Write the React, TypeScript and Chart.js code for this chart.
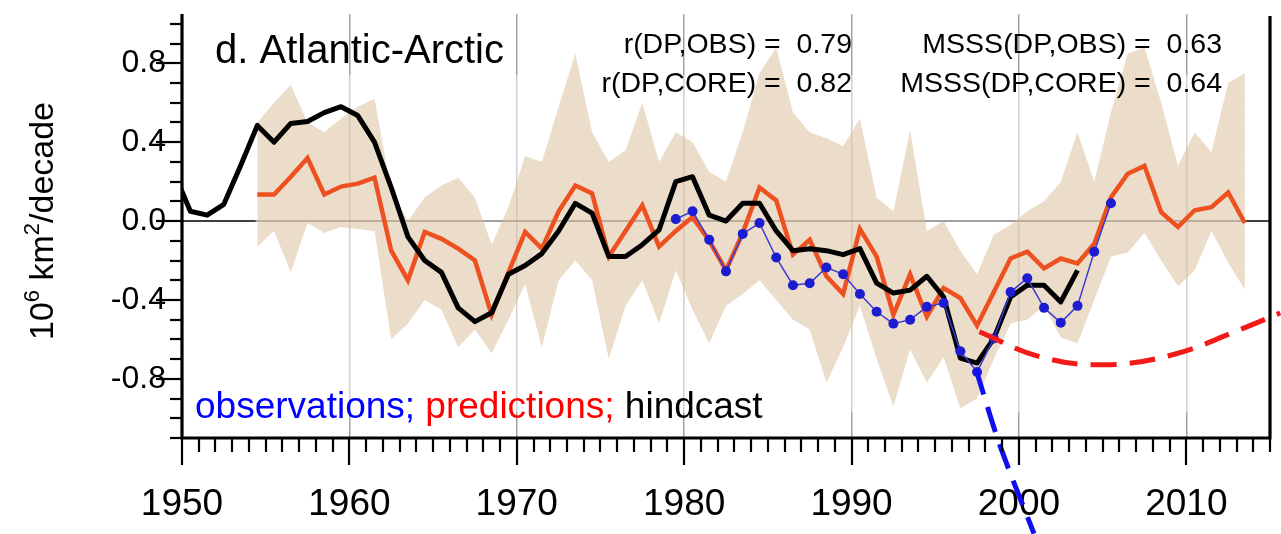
import React, { useEffect, useRef } from "react";
import { Chart, registerables } from "chart.js";

Chart.register(...registerables);

// Axis extents
const X_MIN = 1950;
const X_MAX = 2015;
const Y_MIN = -1.1;
const Y_MAX = 1.05;

// Hindcast (annual, mid-year), starting 1949.5
const hindcastStart = 1949.5;
const hindcast = [
  0.25, 0.05, 0.03, 0.085, 0.28, 0.485, 0.4, 0.495, 0.505, 0.55, 0.58,
  0.535, 0.4, 0.17, -0.08, -0.2, -0.26, -0.44, -0.51, -0.465, -0.27,
  -0.225, -0.165, -0.05, 0.09, 0.04, -0.18, -0.18, -0.12, -0.045, 0.2,
  0.225, 0.03, 0.0, 0.09, 0.09, -0.05, -0.15, -0.14, -0.15, -0.17,
  -0.14, -0.315, -0.365, -0.35, -0.28, -0.385, -0.695, -0.72, -0.595, -0.385,
  -0.325, -0.325, -0.41, -0.25,
];

// Ensemble-mean predictions, starting 1954.5
const predictionStart = 1954.5;
const predictions = [
  0.135, 0.135, 0.225, 0.32, 0.135, 0.175, 0.19, 0.22, -0.15, -0.3,
  -0.055, -0.09, -0.14, -0.2, -0.475, -0.26, -0.055, -0.14, 0.05, 0.18,
  0.14, -0.18, -0.05, 0.08, -0.13, -0.05, 0.02, -0.1, -0.25, -0.06,
  0.17, 0.105, -0.17, -0.095, -0.28, -0.37, -0.04, -0.18, -0.475, -0.27,
  -0.485, -0.34, -0.39, -0.53, -0.36, -0.19, -0.155, -0.24, -0.19, -0.215,
  -0.115, 0.12, 0.24, 0.28, 0.045, -0.03, 0.055, 0.07, 0.145, -0.01,
];

// Ensemble spread envelope, same years as predictions
const spreadUpper = [
  0.5, 0.6, 0.69, 0.5, 0.45, 0.52, 0.58, 0.62, 0.15, 0.0,
  0.12, 0.18, 0.22, 0.12, -0.12, 0.07, 0.33, 0.3, 0.58, 0.85,
  0.45, 0.3, 0.36, 0.6, 0.3, 0.45, 0.4, 0.25, 0.2, 0.45,
  0.75, 0.88, 0.55, 0.45, 0.42, 0.38, 0.52, 0.12, 0.05, 0.46,
  -0.05, 0.0, -0.15, -0.27, -0.07, -0.02, 0.05, 0.1, 0.2, 0.45,
  0.2, 0.55, 0.85, 0.88, 0.6, 0.28, 0.45, 0.35, 0.7, 0.75,
];
const spreadLower = [
  -0.13, -0.05, -0.26, -0.01, -0.06, -0.03, -0.04, -0.05, -0.6, -0.52,
  -0.4, -0.45, -0.64, -0.55, -0.67, -0.5, -0.32, -0.64, -0.3, -0.2,
  -0.3, -0.7, -0.43, -0.3, -0.52, -0.25, -0.45, -0.62, -0.43, -0.37,
  -0.3, -0.4, -0.5, -0.55, -0.82, -0.64, -0.43, -0.7, -0.94, -0.65,
  -0.82, -0.69, -0.95, -0.9, -0.7, -0.52, -0.5, -0.43, -0.59, -0.62,
  -0.4, -0.18, -0.16, -0.06, -0.2, -0.33, -0.25, -0.05, -0.21, -0.35,
];

// Observations, starting 1979.5
const observationStart = 1979.5;
const observations = [
  0.01, 0.05, -0.095, -0.255, -0.065, -0.01, -0.185, -0.325, -0.315, -0.235,
  -0.27, -0.37, -0.46, -0.52, -0.5, -0.435, -0.415, -0.66, -0.765, -0.595,
  -0.36, -0.29, -0.44, -0.515, -0.43, -0.155, 0.09,
];

// Dashed annotation curves
const redArcYears = [1997.64, 2001.22, 2005.0, 2009.18, 2013.16, 2015.61];
const redArcValues = [-0.561, -0.687, -0.729, -0.678, -0.552, -0.466];
const blueDropYears = [1997.44, 1998.85, 2000.9];
const blueDropValues = [-0.754, -1.134, -1.585];

// Ticks and labels
const xTickYears = Array.from({ length: X_MAX - X_MIN + 1 }, (_, i) => X_MIN + i);
const xLabelYears = [1950, 1960, 1970, 1980, 1990, 2000, 2010];
const yTickValues = [-1.1, -1.0, -0.9, -0.8, -0.7, -0.6, -0.5, -0.4, -0.3, -0.2, -0.1, 0.0, 0.1, 0.2, 0.3, 0.4, 0.5, 0.6, 0.7, 0.8, 0.9, 1.0];
const yLabelValues = [-0.8, -0.4, 0.0, 0.4, 0.8];

const panelTitle = "d. Atlantic-Arctic";
const statsLeft = ["r(DP,OBS) =  0.79", "r(DP,CORE) =  0.82"];
const statsRight = ["MSSS(DP,OBS) =  0.63", "MSSS(DP,CORE) =  0.64"];
const legendParts = [
  { text: "observations; ", color: "#0000ff" },
  { text: "predictions; ", color: "#ff0000" },
  { text: "hindcast", color: "#000000" },
];

const FONT = '"Liberation Sans", Arial, Helvetica, sans-serif';

const series = (start: number, values: number[]) =>
  values.map((v, i) => ({ x: start + i, y: v }));
const paired = (xs: number[], ys: number[]) => xs.map((x, i) => ({ x, y: ys[i] }));

const isLabel = (v: number, list: number[]) => list.some((l) => Math.abs(l - v) < 1e-6);

const framePlugin = {
  id: "frame",
  beforeDatasetsDraw(chart: any) {
    const { ctx, chartArea: a, scales } = chart;
    const x = scales.x;
    const y = scales.y;
    ctx.save();
    const y0 = y.getPixelForValue(0);
    ctx.strokeStyle = "#000";
    ctx.lineWidth = 1.6;
    ctx.beginPath();
    ctx.moveTo(a.left, y0);
    ctx.lineTo(a.right, y0);
    ctx.stroke();
    // light veil behind the ensemble panel
    const vx0 = x.getPixelForValue(1954.4);
    const vx1 = x.getPixelForValue(2013.55);
    const vy0 = y.getPixelForValue(0.74);
    const vy1 = y.getPixelForValue(-0.97);
    ctx.fillStyle = "rgba(255,255,255,0.5)";
    ctx.fillRect(vx0, vy0, vx1 - vx0, vy1 - vy0);
    ctx.restore();
  },
  afterDatasetsDraw(chart: any) {
    const { ctx, chartArea: a, scales } = chart;
    const x = scales.x;
    const y = scales.y;
    ctx.save();
    ctx.strokeStyle = "#000";
    ctx.lineCap = "butt";
    // ticks
    ctx.lineWidth = 2.2;
    xTickYears.forEach((yr) => {
      const px = Math.round(x.getPixelForValue(yr));
      const len = yr % 10 === 0 ? 27 : 14;
      ctx.beginPath();
      ctx.moveTo(px, a.bottom);
      ctx.lineTo(px, a.bottom + len);
      ctx.stroke();
    });
    yTickValues.forEach((v) => {
      const py = Math.round(y.getPixelForValue(v));
      const len = isLabel(v, yLabelValues) ? 26 : 12;
      ctx.beginPath();
      ctx.moveTo(a.left - len, py);
      ctx.lineTo(a.left, py);
      ctx.stroke();
    });
    // frame: left, bottom, right
    ctx.lineWidth = 3.2;
    ctx.beginPath();
    ctx.moveTo(a.left, a.top);
    ctx.lineTo(a.left, a.bottom + 1.5);
    ctx.moveTo(a.left - 1.5, a.bottom);
    ctx.lineTo(a.right + 1.5, a.bottom);
    ctx.moveTo(a.right, a.bottom);
    ctx.lineTo(a.right, a.top + 2);
    ctx.stroke();
    ctx.restore();
  },
  afterDraw(chart: any) {
    const { ctx } = chart;
    ctx.save();
    ctx.fillStyle = "#000";
    ctx.textBaseline = "alphabetic";

    ctx.font = `40px ${FONT}`;
    ctx.textAlign = "left";
    ctx.fillText(panelTitle, 215, 63);

    ctx.font = `28.5px ${FONT}`;
    ctx.textAlign = "right";
    ctx.fillText(statsLeft[0], 852, 53);
    ctx.fillText(statsLeft[1], 852, 92);
    ctx.fillText(statsRight[0], 1222, 53);
    ctx.fillText(statsRight[1], 1222, 92);

    ctx.font = `37px ${FONT}`;
    ctx.textAlign = "left";
    let lx = 195;
    legendParts.forEach((p) => {
      ctx.fillStyle = p.color;
      ctx.fillText(p.text, lx, 418);
      lx += ctx.measureText(p.text).width;
    });

    // y-axis title with superscripts
    const main = `34px ${FONT}`;
    const sup = `22px ${FONT}`;
    const parts = [
      { t: "10", f: main, dy: 0 },
      { t: "6", f: sup, dy: -14 },
      { t: " km", f: main, dy: 0 },
      { t: "2", f: sup, dy: -14 },
      { t: "/decade", f: main, dy: 0 },
    ];
    let total = 0;
    parts.forEach((p) => {
      ctx.font = p.f;
      total += ctx.measureText(p.t).width;
    });
    ctx.fillStyle = "#000";
    ctx.translate(53, 221);
    ctx.rotate(-Math.PI / 2);
    let tx = -total / 2;
    parts.forEach((p) => {
      ctx.font = p.f;
      ctx.fillText(p.t, tx, p.dy);
      tx += ctx.measureText(p.t).width;
    });
    ctx.restore();
  },
};

export default function App() {
  const canvasRef = useRef<HTMLCanvasElement | null>(null);

  useEffect(() => {
    if (!canvasRef.current) return;
    const chart = new Chart(canvasRef.current, {
      type: "line",
      data: {
        datasets: [
          {
            data: paired(redArcYears, redArcValues),
            borderColor: "#f41a1a",
            borderWidth: 5,
            borderDash: [26, 13],
            tension: 0.4,
            pointRadius: 0,
            fill: false,
            clip: false as any,
            order: 0,
          },
          {
            data: paired(blueDropYears, blueDropValues),
            borderColor: "#1010ee",
            borderWidth: 5,
            borderDash: [26, 13],
            tension: 0.3,
            pointRadius: 0,
            fill: false,
            clip: false as any,
            order: 0,
          },
          {
            data: series(observationStart, observations),
            borderColor: "#3a3ad0",
            borderWidth: 1.5,
            pointRadius: 5,
            pointBackgroundColor: "#1c1cd0",
            pointBorderWidth: 0,
            tension: 0,
            fill: false,
            order: 1,
          },
          {
            data: series(hindcastStart, hindcast),
            borderColor: "#000000",
            borderWidth: 5,
            borderJoinStyle: "round",
            pointRadius: 0,
            tension: 0,
            fill: false,
            order: 2,
          },
          {
            data: series(predictionStart, predictions),
            borderColor: "#ee5020",
            borderWidth: 4.5,
            borderJoinStyle: "miter",
            pointRadius: 0,
            tension: 0,
            fill: false,
            order: 3,
          },
          {
            data: series(predictionStart, spreadUpper),
            borderColor: "rgba(0,0,0,0)",
            borderWidth: 0,
            backgroundColor: "rgba(217,187,152,0.5)",
            pointRadius: 0,
            tension: 0,
            fill: "+1",
            order: 4,
          },
          {
            data: series(predictionStart, spreadLower),
            borderColor: "rgba(0,0,0,0)",
            borderWidth: 0,
            pointRadius: 0,
            tension: 0,
            fill: false,
            order: 5,
          },
        ],
      },
      options: {
        responsive: false,
        animation: false,
        events: [],
        layout: { padding: { top: 14, right: 11, left: 0, bottom: 0 } },
        plugins: {
          legend: { display: false },
          tooltip: { enabled: false },
          title: { display: false },
        },
        scales: {
          x: {
            type: "linear",
            min: X_MIN,
            max: X_MAX,
            afterBuildTicks: (scale: any) => {
              scale.ticks = xTickYears.map((v) => ({ value: v }));
            },
            afterFit: (scale: any) => {
              scale.height = 96;
              scale.paddingLeft = 0;
              scale.paddingRight = 0;
            },
            ticks: {
              autoSkip: false,
              maxRotation: 0,
              padding: 45,
              color: "#000",
              font: { family: FONT, size: 37 },
              callback: (v: any) => (xLabelYears.includes(Number(v)) ? String(v) : ""),
            },
            grid: {
              drawTicks: false,
              lineWidth: 1.5,
              color: (c: any) => {
                const v = c.tick && c.tick.value;
                return v % 10 === 0 && v !== X_MIN ? "#a2a2a2" : "rgba(0,0,0,0)";
              },
            },
            border: { display: false },
          },
          y: {
            type: "linear",
            min: Y_MIN,
            max: Y_MAX,
            afterBuildTicks: (scale: any) => {
              scale.ticks = yTickValues.map((v) => ({ value: v }));
            },
            afterFit: (scale: any) => {
              scale.width = 182;
              scale.paddingTop = 0;
              scale.paddingBottom = 0;
            },
            ticks: {
              autoSkip: false,
              padding: 16,
              color: "#000",
              font: { family: FONT, size: 32 },
              callback: (v: any) => (isLabel(Number(v), yLabelValues) ? Number(v).toFixed(1) : ""),
            },
            grid: { display: false, drawTicks: false },
            border: { display: false },
          },
        },
      },
      plugins: [framePlugin],
    });
    return () => chart.destroy();
  }, []);

  return (
    <div style={{ position: "absolute", left: 0, top: 0, width: 1281, height: 534, background: "#fff" }}>
      <canvas ref={canvasRef} width={1281} height={534} style={{ display: "block" }} />
    </div>
  );
}
